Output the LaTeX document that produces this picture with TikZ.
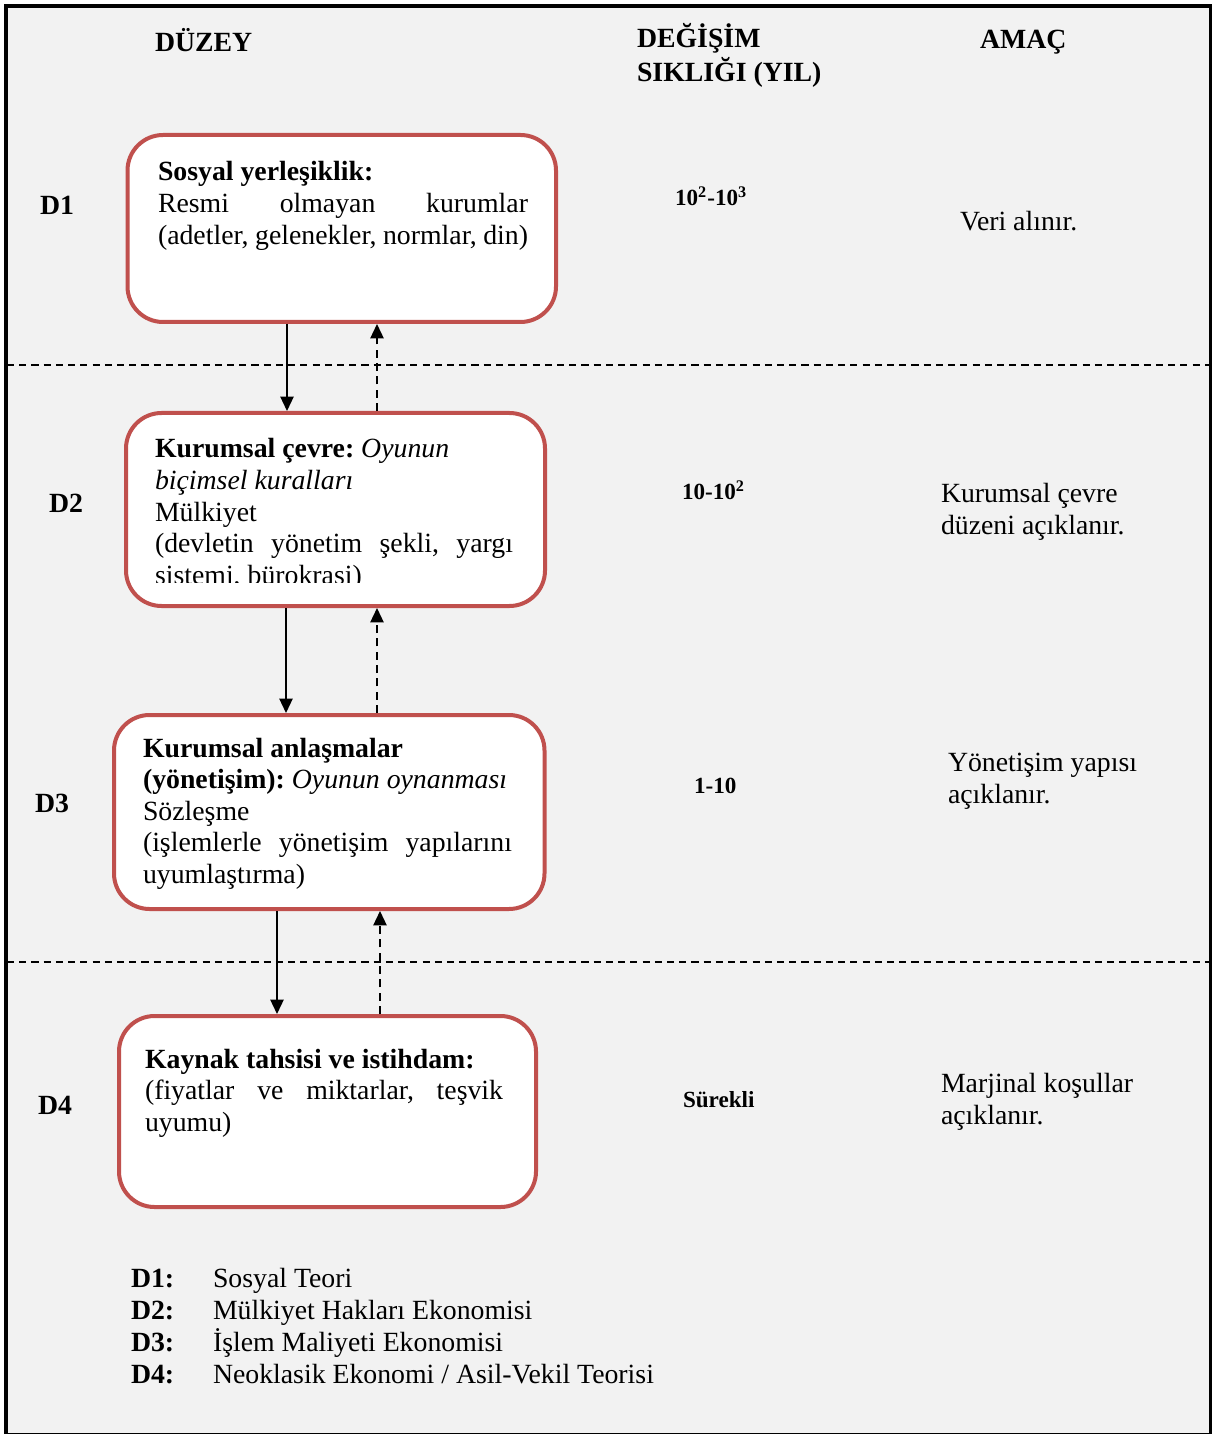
\documentclass[tikz,border=0pt]{standalone}
\usepackage{fontspec}
\setmainfont{Liberation Serif}
\usetikzlibrary{arrows.meta}
\definecolor{panel}{HTML}{F2F2F2}
\definecolor{boxred}{HTML}{C0504D}

\begin{document}
\begin{tikzpicture}[x=0.45pt,y=-0.45pt,
  every node/.style={inner sep=0pt,outer sep=0pt,font=\fontsize{12.5}{14.2}\selectfont,
    execute at begin node={\spaceskip=0pt\xspaceskip=0pt\frenchspacing}},
  levelbox/.style={rectangle,draw=boxred,line width=1.8pt,fill=white,
    rounded corners=16pt,outer sep=0.9pt},
  boxtext/.style={anchor=base west,align=left},
  head/.style={anchor=base west,align=left,text width=260*0.45pt,
    font=\fontsize{12.5}{15.2}\selectfont\bfseries},
  lvl/.style={anchor=base west,font=\fontsize{12.5}{14.2}\selectfont\bfseries},
  freq/.style={anchor=base west,font=\fontsize{10.4}{12}\selectfont\bfseries},
  goal/.style={anchor=base west,align=left,text width=260*0.45pt,
    font=\fontsize{12.5}{14.4}\selectfont},
  legendtext/.style={anchor=base west,font=\fontsize{12.5}{14.4}\selectfont},
  flow/.style={line width=0.75pt,-{Triangle[length=6.5pt,width=6pt]}},
  feedback/.style={line width=0.75pt,dash pattern=on 3.6pt off 2.4pt,
    -{Triangle[length=6.5pt,width=6pt]}},
  separator/.style={line width=0.55pt,dash pattern=on 3.2pt off 2.3pt}
]
% page and outer frame
\fill[white] (0,0) rectangle (1212,1434);
\useasboundingbox (0,0) rectangle (1212,1434);
\begin{scope}
  \clip (0,0) rectangle (1212,1434);
  \draw[line width=1.6pt,fill=panel] (6,6) rectangle (1210.5,1435);
\end{scope}

% column headings
\node[head] (hlevel) at (155,52) {DÜZEY};
\node[head] (hfreq) at (637,48) {DEĞİŞİM\\SIKLIĞI (YIL)};
\node[head] (hgoal) at (980,49) {AMAÇ};

% band separators
\draw[separator] (7,365) -- (1209,365);
\draw[separator] (7,962) -- (1209,962);

% level labels
\node[lvl] (l1) at (40,215) {D1};
\node[lvl] (l2) at (49,512) {D2};
\node[lvl] (l3) at (35,812) {D3};
\node[lvl] (l4) at (38,1114) {D4};

% level boxes
\node[levelbox,minimum width=428.5*0.45pt,minimum height=187*0.45pt] (b1) at (341.75,228.5) {};
\node[levelbox,minimum width=419*0.45pt,minimum height=193*0.45pt] (b2) at (335.5,509.5) {};
\node[levelbox,minimum width=430.5*0.45pt,minimum height=194*0.45pt] (b3) at (329.25,812) {};
\node[levelbox,minimum width=417*0.45pt,minimum height=191*0.45pt] (b4) at (327.5,1111.5) {};

% box contents
\node[boxtext,text width=370*0.45pt] (t1) at (158,181)
  {\textbf{Sosyal yerleşiklik:}\\
   Resmi\hfill olmayan\hfill kurumlar\\
   (adetler, gelenekler, normlar, din)};
\begin{scope}
  \clip (140,430) rectangle (530,582);
  \node[boxtext,text width=358*0.45pt] (t2) at (155,458)
    {\textbf{Kurumsal çevre:} \textit{Oyunun}\\
     \textit{biçimsel kuralları}\\
     Mülkiyet\\
     (devletin\hfill yönetim\hfill şekli,\hfill yargı\\
     sistemi, bürokrasi)};
\end{scope}
\node[boxtext,text width=369*0.45pt] (t3) at (143,757)
  {\textbf{Kurumsal anlaşmalar}\\
   \textbf{(yönetişim):} \textit{Oyunun oynanması}\\
   Sözleşme\\
   (işlemlerle\hfill yönetişim\hfill yapılarını\\
   uyumlaştırma)};
\node[boxtext,text width=358*0.45pt] (t4) at (145,1068)
  {\textbf{Kaynak tahsisi ve istihdam:}\\
   (fiyatlar\hfill ve\hfill miktarlar,\hfill teşvik\\
   uyumu)};

% connector columns
\coordinate (s12) at (287,0);
\coordinate (d12) at (377,0);
\coordinate (s23) at (286,0);
\coordinate (d23) at (377,0);
\coordinate (s34) at (277,0);
\coordinate (d34) at (380,0);

\draw[flow] (b1.south -| s12) -- (b2.north -| s12);
\draw[feedback] (b2.north -| d12) -- (b1.south -| d12);
\draw[flow] (b2.south -| s23) -- (b3.north -| s23);
\draw[feedback] (b3.north -| d23) -- (b2.south -| d23);
\draw[flow] (b3.south -| s34) -- (b4.north -| s34);
\draw[feedback] (b4.north -| d34) -- (b3.south -| d34);

% change frequency
\node[freq] (f1) at (675,206) {10\textsuperscript{2}-10\textsuperscript{3}};
\node[freq] (f2) at (682,500) {10-10\textsuperscript{2}};
\node[freq] (f3) at (694,793) {1-10};
\node[freq] (f4) at (683,1107) {Sürekli};

% purpose
\node[goal] (g1) at (960,231) {Veri alınır.};
\node[goal] (g2) at (941,503) {Kurumsal çevre\\düzeni açıklanır.};
\node[goal] (g3) at (948,771) {Yönetişim yapısı\\açıklanır.};
\node[goal] (g4) at (941,1092) {Marjinal koşullar\\açıklanır.};

% legend
\node[lvl] (k1) at (131,1287) {D1:};
\node[lvl] (k2) at (131,1319) {D2:};
\node[lvl] (k3) at (131,1351) {D3:};
\node[lvl] (k4) at (131,1383) {D4:};
\node[legendtext] (e1) at (213,1287) {Sosyal Teori};
\node[legendtext] (e2) at (213,1319) {Mülkiyet Hakları Ekonomisi};
\node[legendtext] (e3) at (213,1351) {İşlem Maliyeti Ekonomisi};
\node[legendtext] (e4) at (213,1383) {Neoklasik Ekonomi / Asil-Vekil Teorisi};
\end{tikzpicture}
\end{document}
